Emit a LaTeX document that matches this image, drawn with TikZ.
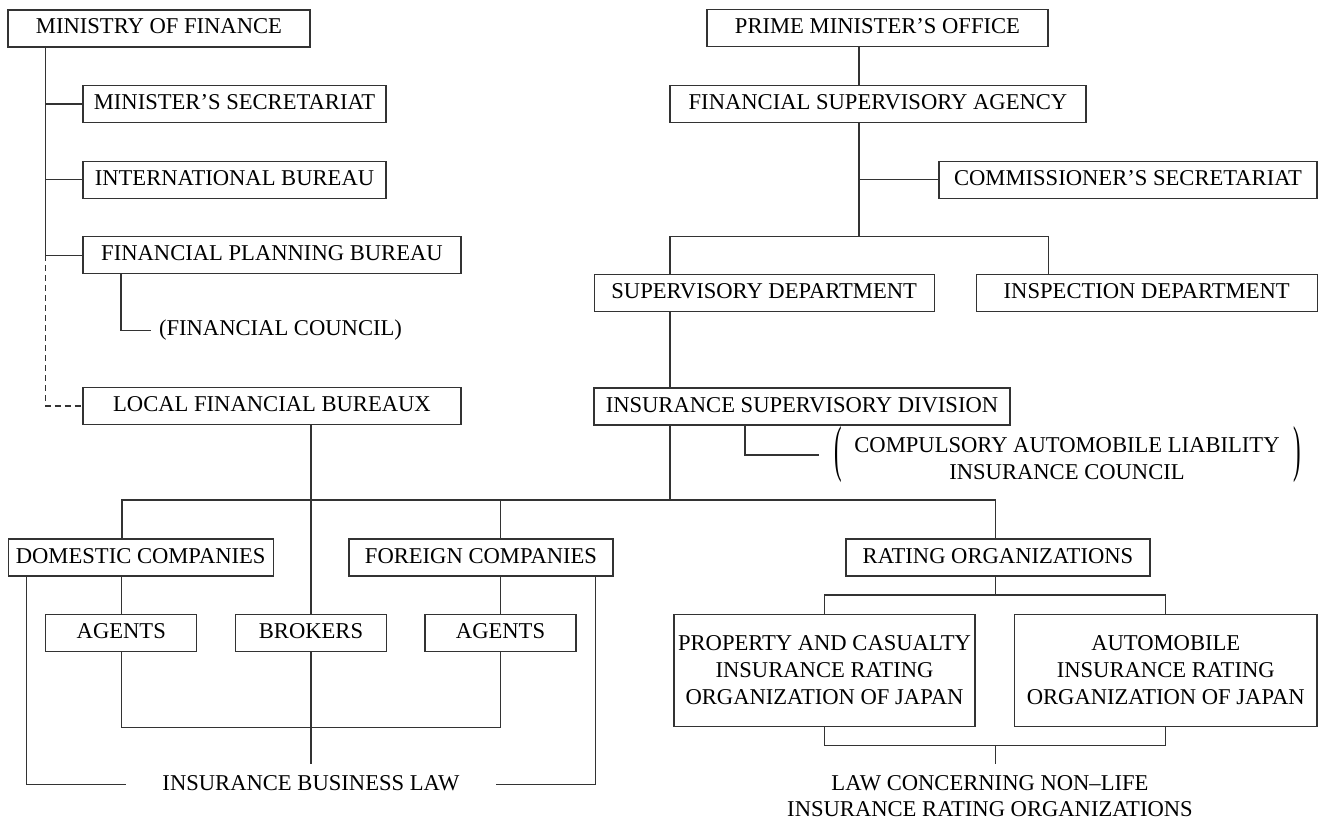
\documentclass[tikz,border=0pt]{standalone}
\usepackage{fontspec}
\setmainfont{Liberation Serif}
\begin{document}
\begin{tikzpicture}[x=1pt,y=-1pt,
  every node/.style={font=\fontsize{22.6}{27}\selectfont, text=black},
  conn/.style={draw=black!80, line width=1.1pt},
  box/.style={draw=black!80, line width=1.1pt, inner sep=0pt, minimum height=37pt, text height=15pt, text depth=4pt},
  bigbox/.style={draw=black!80, line width=1.1pt, inner sep=0pt, minimum height=112.4pt, align=center},
  lbl/.style={inner ysep=0pt, text height=15pt, text depth=4pt}]
\useasboundingbox (0,0) rectangle (1318,819);
% nodes
\node[box, minimum width=302pt] (mof) at (159,28.5) {MINISTRY OF FINANCE};
\node[box, minimum width=303pt] (ms) at (234.5,104) {MINISTER’S SECRETARIAT};
\node[box, minimum width=303pt] (ib) at (234.5,179.7) {INTERNATIONAL BUREAU};
\node[box, minimum width=378pt] (fpb) at (272,255.4) {FINANCIAL PLANNING BUREAU};
\node[lbl, inner xsep=8pt] (fc) at (280.5,330.3) {(FINANCIAL COUNCIL)};
\node[box, minimum width=378pt] (lfb) at (272,406) {LOCAL FINANCIAL BUREAUX};
\node[box, minimum width=341pt] (pmo) at (877.5,28.3) {PRIME MINISTER’S OFFICE};
\node[box, minimum width=416pt] (fsa) at (878,104) {FINANCIAL SUPERVISORY AGENCY};
\node[box, minimum width=378pt] (cs) at (1128,179.7) {COMMISSIONER’S SECRETARIAT};
\node[box, minimum width=340pt] (sd) at (764.2,293) {SUPERVISORY DEPARTMENT};
\node[box, minimum width=341pt] (id) at (1146.7,293) {INSPECTION DEPARTMENT};
\node[box, minimum width=416pt] (isd) at (802,406.5) {INSURANCE SUPERVISORY DIVISION};
\node[inner sep=0pt, align=center, font=\fontsize{22.6}{26.7}\selectfont] (cal) at (1067,458.4) {COMPULSORY AUTOMOBILE LIABILITY\\INSURANCE COUNCIL};
\node[inner xsep=15pt, inner ysep=0pt] (lp) at (838,455) {\scalebox{1}[2.75]{(}};
\node[inner sep=0pt] (rp) at (1297,455) {\scalebox{1}[2.75]{)}};
\node[box, minimum width=265pt] (dc) at (140.7,557.5) {DOMESTIC COMPANIES};
\node[box, minimum width=264pt] (fco) at (481,557.5) {FOREIGN COMPANIES};
\node[box, minimum width=304pt] (ro) at (998,557.5) {RATING ORGANIZATIONS};
\node[box, minimum width=151pt] (ag1) at (121.3,633) {AGENTS};
\node[box, minimum width=151pt] (br) at (311,633) {BROKERS};
\node[box, minimum width=151pt] (ag2) at (500.5,633) {AGENTS};
\node[lbl, inner xsep=36pt] (ibl) at (311,784.7) {INSURANCE BUSINESS LAW};
\node[bigbox, minimum width=301pt] (pc) at (824.5,670.5) {PROPERTY AND CASUALTY\\INSURANCE RATING\\ORGANIZATION OF JAPAN};
\node[bigbox, minimum width=302.5pt] (am) at (1165.75,670.5) {AUTOMOBILE\\INSURANCE RATING\\ORGANIZATION OF JAPAN};
\node[inner sep=0pt, align=center, anchor=north, font=\fontsize{22.6}{26}\selectfont] (law) at (990,775.5) {LAW CONCERNING NON–LIFE\\INSURANCE RATING ORGANIZATIONS};
% helper coordinates
\coordinate (tA) at (45.3,0);
\coordinate (tB) at (859,0);
\coordinate (tC) at (670,0);
\coordinate (tD) at (1048.6,0);
\coordinate (tE1) at (122,0);
\coordinate (tE2) at (500.5,0);
\coordinate (tE3) at (995.5,0);
\coordinate (tF) at (121,0);
\coordinate (tG) at (26.6,0);
\coordinate (tH) at (595.4,0);
\coordinate (tI) at (745,0);
\coordinate (yB) at (0,236.3);
\coordinate (yE) at (0,500);
\coordinate (yF) at (0,727.7);
\coordinate (yR) at (0,595);
\coordinate (yS) at (0,745.7);
\coordinate (brEnd) at (311,764.3);
\coordinate (lawEnd) at (995.5,764.3);
% connectors
\draw[conn] (mof.south -| tA) |- (ms.west);
\draw[conn] (mof.south -| tA) |- (ib.west);
\draw[conn] (mof.south -| tA) |- (fpb.west);
\draw[conn, dash pattern=on 6pt off 4pt] (tA |- fpb.west) |- (lfb.west);
\draw[conn] (fpb.south -| tF) |- (fc.west);
\draw[conn] (pmo.south -| tB) -- (fsa.north -| tB);
\draw[conn] (fsa.south -| tB) |- (cs.west);
\draw[conn] (fsa.south -| tB) -- (tB |- yB);
\draw[conn] (sd.north -| tC) -- (tC |- yB) -- (tD |- yB) -- (id.north -| tD);
\draw[conn] (sd.south -| tC) -- (isd.north -| tC);
\draw[conn] (isd.south -| tI) |- (lp.west);
\draw[conn] (isd.south -| tC) -- (tC |- yE);
\draw[conn] (dc.north -| tE1) -- (tE1 |- yE) -- (tE3 |- yE) -- (ro.north -| tE3);
\draw[conn] (fco.north -| tE2) -- (tE2 |- yE);
\draw[conn] (lfb.south -| br.north) -- (br.north);
\draw[conn] (dc.south -| ag1.north) -- (ag1.north);
\draw[conn] (fco.south -| ag2.north) -- (ag2.north);
\draw[conn] (ag1.south) -- (ag1.south |- yF) -- (ag2.south |- yF) -- (ag2.south);
\draw[conn] (br.south) -- (brEnd);
\draw[conn] (dc.south -| tG) |- (ibl.west);
\draw[conn] (fco.south -| tH) |- (ibl.east);
\draw[conn] (ro.south -| tE3) -- (tE3 |- yR);
\draw[conn] (pc.north) -- (pc.north |- yR) -- (am.north |- yR) -- (am.north);
\draw[conn] (pc.south) -- (pc.south |- yS) -- (am.south |- yS) -- (am.south);
\draw[conn] (tE3 |- yS) -- (lawEnd);
\end{tikzpicture}
\end{document}
